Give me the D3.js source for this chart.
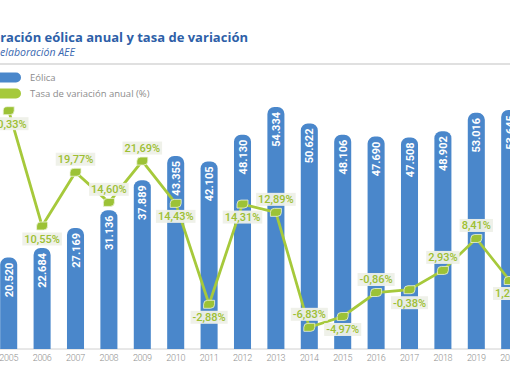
<!DOCTYPE html>
<html><head><meta charset="utf-8">
<script src="https://cdn.jsdelivr.net/npm/d3@7"></script>
<style>
html,body{margin:0;padding:0;background:#fff;overflow:hidden}
svg{display:block}
</style></head>
<body>
<svg id="chart" width="510" height="382"></svg>
<script>
// ---- data ----
const years = ["2005","2006","2007","2008","2009","2010","2011","2012","2013","2014","2015","2016","2017","2018","2019","2020"];
const eolica = [20.520,22.684,27.169,31.136,37.889,43.355,42.105,48.130,54.334,50.622,48.106,47.690,47.508,48.902,53.016,53.645];
const tasa = [30.33,10.55,19.77,14.60,21.69,14.43,-2.88,14.31,12.89,-6.83,-4.97,-0.86,-0.38,2.93,8.41,1.20];
const seriesNames = ["Eólica","Tasa de variación anual (%)"];
const titleText = "Generación eólica anual y tasa de variación";
const subtitleText = "Fuente: REE y elaboración AEE";

// ---- drawing ----
const svg = d3.select("#chart");
const blue = "#4a87cb", green = "#a6c93b", greenText = "#9dbf33";
const fmtBar = d => d3.format(".3f")(d);
const fmtPct = d => d3.format(".2f")(d).replace("−", "-").replace(".", ",") + "%";
const labelSide = [1,1,-1,-1,-1,1,1,1,-1,-1,1,-1,1,-1,-1,1];

const x = d3.scaleBand().domain(years).range([-8, -8 + 16 * 33.4]).paddingInner(0.49).paddingOuter(0.245);
const y = d3.scaleLinear().domain([0, 60]).range([349, 349 - 60 * 4.454]);
const y2 = d3.scaleLinear().domain([0, 30]).range([287.5, 287.5 - 30 * 5.83]);

// fit a text so that its visible tail (substring) spans a given width, ending at xEnd
function fittedText(full, tail, xEnd, yBase, targetW, attrs) {
  const t = svg.append("text").attr("x", xEnd).attr("y", yBase).attr("text-anchor", "end");
  Object.entries(attrs).forEach(([k, v]) => t.attr(k, v));
  t.attr("font-size", 20).text(tail);
  const w = t.node().getComputedTextLength();
  t.attr("font-size", 20 * targetW / w).text(full);
  return t;
}
fittedText(titleText, "ración eólica anual y tasa de variación", 248, 42, 248,
  {"font-family": "Open Sans", "font-weight": 700, "fill": "#2e5fa8"});
fittedText(subtitleText, "elaboración AEE", 75, 56, 75,
  {"font-family": "Open Sans", "font-style": "italic", "font-weight": 400, "fill": "#3a68b0"});
svg.append("line").attr("x1", 0).attr("x2", 510).attr("y1", 64).attr("y2", 64)
  .attr("stroke", "#d6d6d6").attr("stroke-width", 1.5);

// legend
const legend = svg.append("g");
[blue, green].forEach((c, i) => {
  legend.append("rect").attr("x", -12).attr("y", 72.5 + i * 16).attr("width", 33).attr("height", 10)
    .attr("rx", 5).attr("fill", c);
  legend.append("text").attr("x", 30).attr("y", 81 + i * 16)
    .attr("font-family", "Open Sans").attr("font-size", 9.5).attr("fill", "#8c8c8c").text(seriesNames[i]);
});

// axis baseline
svg.append("line").attr("x1", 0).attr("x2", 510).attr("y1", y(0)).attr("y2", y(0))
  .attr("stroke", "#d0d0d0").attr("stroke-width", 1);

// bars
function topRounded(x0, y0, w, h, r) {
  r = Math.min(r, w / 2, h);
  return `M${x0},${y0 + h}V${y0 + r}A${r},${r} 0 0 1 ${x0 + r},${y0}H${x0 + w - r}A${r},${r} 0 0 1 ${x0 + w},${y0 + r}V${y0 + h}Z`;
}
const bw = x.bandwidth();
svg.append("g").selectAll("path").data(years).join("path")
  .attr("d", (d, i) => topRounded(x(d), y(eolica[i]), bw, y(0) - y(eolica[i]), 7))
  .attr("fill", blue);

svg.append("g").selectAll("text").data(years).join("text")
  .attr("transform", (d, i) => `translate(${x(d) + bw / 2 + 4},${y(eolica[i]) + 5}) rotate(-90)`)
  .attr("text-anchor", "end")
  .attr("font-family", "Roboto").attr("font-weight", 700).attr("font-size", 11)
  .attr("fill", "#fff").text((d, i) => fmtBar(eolica[i]));

// year labels
const xAxis = d3.axisBottom(x).tickSize(0).tickPadding(6);
const ax = svg.append("g").attr("transform", `translate(0,${y(0)})`).call(xAxis);
ax.select(".domain").remove();
ax.selectAll("text").attr("font-family", "Roboto").attr("font-weight", 300).attr("font-size", 9)
  .attr("letter-spacing", -0.3).attr("fill", "#8f8f8f");

// line
const cx = d => x(d) + bw / 2;
const line = d3.line().x((d, i) => cx(years[i])).y(d => y2(d));
svg.append("path").datum(tasa).attr("d", line).attr("fill", "none")
  .attr("stroke", green).attr("stroke-width", 2.8);

// markers (leaf shape)
function leaf(px, py) {
  const w = 11, h = 8, r = 4;
  const x0 = px - w / 2, y0 = py - h / 2;
  return `M${x0 + r},${y0}H${x0 + w}V${y0 + h - r}A${r},${r} 0 0 1 ${x0 + w - r},${y0 + h}H${x0}V${y0 + r}A${r},${r} 0 0 1 ${x0 + r},${y0}Z`;
}
svg.append("g").selectAll("path").data(tasa).join("path")
  .attr("d", (d, i) => leaf(cx(years[i]), y2(d)))
  .attr("fill", "#9cc236").attr("stroke", "#eef4dc").attr("stroke-width", 0.8);

// percentage labels
const lg = svg.append("g").selectAll("g").data(tasa).join("g")
  .attr("transform", (d, i) => `translate(${cx(years[i])},${y2(d) + labelSide[i] * 13})`);
lg.each(function (d) {
  const g = d3.select(this);
  const t = g.append("text").attr("text-anchor", "middle").attr("dy", "0.36em")
    .attr("font-family", "Roboto").attr("font-weight", 500).attr("font-size", 11)
    .attr("fill", greenText).text(fmtPct(d));
  const bb = t.node().getBBox();
  g.insert("rect", "text").attr("x", bb.x - 2).attr("y", -6.5).attr("width", bb.width + 4).attr("height", 13)
    .attr("fill", "#eef0e8").attr("opacity", 0.95);
});
</script>
</body></html>
